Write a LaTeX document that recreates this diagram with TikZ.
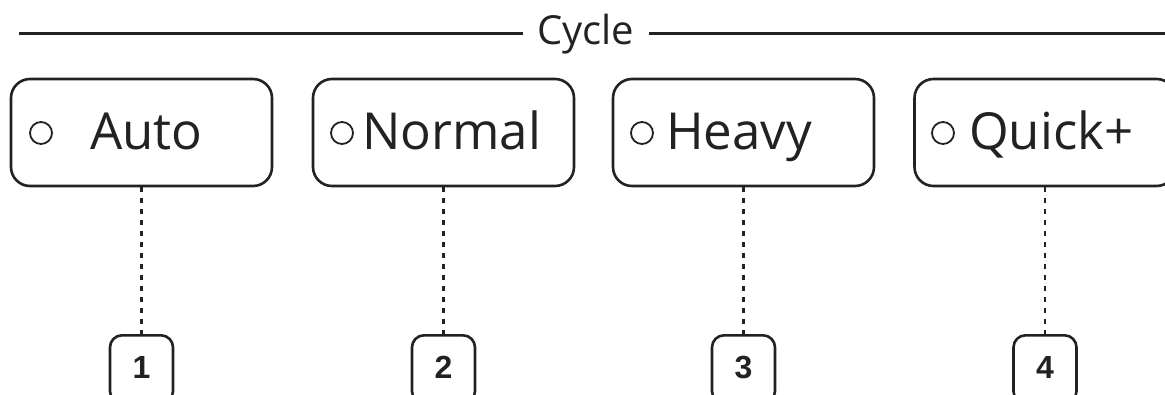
\documentclass[tikz,border=0pt]{standalone}
\usepackage{fontspec}
\setmainfont{Open Sans}
\newfontfamily\numfont{Liberation Sans}
\definecolor{ink}{HTML}{222222}
\begin{document}
\begin{tikzpicture}[x=1pt,y=-1pt,
  modebox/.style={draw=ink,line width=2.6pt,rounded corners=19pt,minimum width=261pt,minimum height=107pt,inner sep=0pt},
  numbox/.style={draw=ink,line width=2.6pt,rounded corners=12pt,minimum width=63pt,minimum height=68pt,inner sep=0pt,anchor=north},
  dot/.style={circle,draw=ink,line width=1.8pt,minimum size=22pt,inner sep=0pt},
  modelabel/.style={anchor=base west,inner sep=0pt,font=\fontsize{51}{51}\selectfont,text=ink},
  numlabel/.style={font=\numfont\bfseries\fontsize{32}{32}\selectfont,text=ink,inner sep=0pt},
  topline/.style={draw=ink,line width=2.4pt},
  link/.style={draw=ink,line width=2.6pt,dash pattern=on 5pt off 6pt}]
\useasboundingbox (0,0) rectangle (1165,394);
% top line with title
\node[anchor=base,inner sep=0pt,font=\fontsize{40}{40}\selectfont,text=ink] (title) at (585.5,44) {Cycle};
\coordinate (tl) at (19,33.5);
\coordinate (tr) at (1170,33.5);
\coordinate (tla) at (523,33.5);
\coordinate (tra) at (649,33.5);
\draw[topline] (tl) -- (tla);
\draw[topline] (tra) -- (tr);
% mode boxes
\node[modebox] (b1) at (141.5,132.5) {};
\node[modebox] (b2) at (443.5,132.5) {};
\node[modebox] (b3) at (743.5,132.5) {};
\node[modebox] (b4) at (1045,132.5) {};
\node[dot] (c1) at (41,133) {};
\node[dot] (c2) at (342,133) {};
\node[dot] (c3) at (642,133) {};
\node[dot] (c4) at (943,133) {};
\node[modelabel] (l1) at (90,149) {Auto};
\node[modelabel] (l2) at (362,149) {Normal};
\node[modelabel] (l3) at (666,149) {Heavy};
\node[modelabel] (l4) at (969,149) {Quick+};
% number boxes
\node[numbox] (n1) at (141.5,334) {};
\node[numbox] (n2) at (443.5,334) {};
\node[numbox] (n3) at (743.5,334) {};
\node[numbox] (n4) at (1045,334) {};
\node[numlabel] (d1) at (141.5,367.5) {1};
\node[numlabel] (d2) at (443.5,367.5) {2};
\node[numlabel] (d3) at (743.5,367.5) {3};
\node[numlabel] (d4) at (1045,367.5) {4};
% connectors
\draw[link] (b1.south) -- (n1.north);
\draw[link] (b2.south) -- (n2.north);
\draw[link] (b3.south) -- (n3.north);
\draw[link] (b4.south) -- (n4.north);
\end{tikzpicture}
\end{document}
